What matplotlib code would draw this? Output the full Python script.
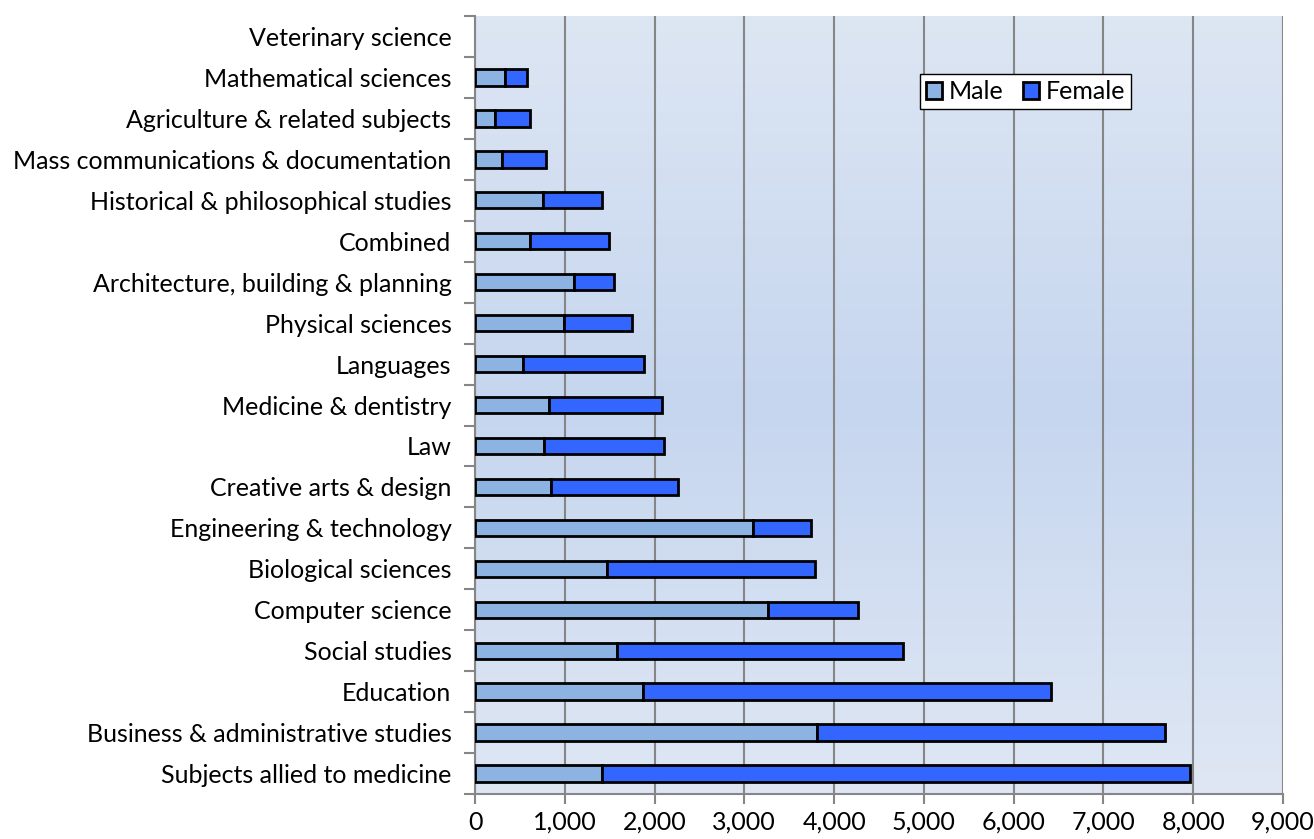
import matplotlib.pyplot as plt
import numpy as np
from matplotlib.colors import LinearSegmentedColormap
from matplotlib.patches import Patch
from matplotlib.ticker import FuncFormatter, MultipleLocator, FixedLocator

# Categories, top to bottom as shown
subjects = [
    "Veterinary science",
    "Mathematical sciences",
    "Agriculture & related subjects",
    "Mass communications & documentation",
    "Historical & philosophical studies",
    "Combined",
    "Architecture, building & planning",
    "Physical sciences",
    "Languages",
    "Medicine & dentistry",
    "Law",
    "Creative arts & design",
    "Engineering & technology",
    "Biological sciences",
    "Computer science",
    "Social studies",
    "Education",
    "Business & administrative studies",
    "Subjects allied to medicine",
]
male = [0, 333, 222, 304, 752, 615, 1104, 993, 533, 819, 763, 848,
        3093, 1470, 3259, 1585, 1867, 3804, 1415]
female = [0, 241, 389, 485, 659, 881, 440, 759, 1348, 1266, 1337, 1415,
          651, 2319, 1008, 3185, 4553, 3885, 6545]

male_color = "#8db3e2"
female_color = "#3366ff"

plt.rcParams['font.family'] = ['Lato', 'DejaVu Sans']

fig = plt.figure(figsize=(13.14, 8.39), dpi=100)
ax = fig.add_axes([0.3615, 0.0536, 0.6149, 0.9273])

# gradient background
grad = LinearSegmentedColormap.from_list(
    "bg", ["#dde6f3", "#c6d6ef", "#dfe7f4"])
ax.imshow(np.linspace(0, 1, 256).reshape(-1, 1), aspect='auto', cmap=grad,
          extent=[0, 1, 0, 1], transform=ax.transAxes, zorder=0)

y = np.arange(len(subjects))
b1 = ax.barh(y, male, height=0.4, color=male_color, edgecolor="black",
             linewidth=2, zorder=3)
b2 = ax.barh(y, female, left=male, height=0.4, color=female_color,
             edgecolor="black", linewidth=2, zorder=3)
# hide empty bars (no outline stub)
for p in list(b1) + list(b2):
    if p.get_width() == 0:
        p.set_visible(False)

ax.set_xlim(0, 9000)
ax.set_ylim(len(subjects) - 0.5, -0.5)
ax.set_yticks(y)
ax.set_yticklabels(subjects, fontsize=18)
ax.yaxis.set_minor_locator(FixedLocator(np.arange(-0.5, len(subjects), 1)))
ax.tick_params(axis='y', which='major', length=0, pad=17)
ax.tick_params(axis='y', which='minor', length=8, width=1.5, color="#868686")

ax.xaxis.set_major_locator(MultipleLocator(1000))
ax.xaxis.set_major_formatter(FuncFormatter(lambda v, p: f"{int(v):,}"))
ax.tick_params(axis='x', length=7, width=1.5, color="#868686", labelsize=18, pad=5)
ax.grid(axis='x', color="#868686", linewidth=1.5, zorder=1)
ax.set_axisbelow(True)

for s in ['top', 'right']:
    ax.spines[s].set_visible(False)
for s in ['left', 'bottom']:
    ax.spines[s].set_color("#868686")
    ax.spines[s].set_linewidth(1.5)

handles = [Patch(facecolor=male_color, edgecolor="black", linewidth=2, label="Male"),
           Patch(facecolor=female_color, edgecolor="black", linewidth=2, label="Female")]
leg = ax.legend(handles=handles, loc='center', bbox_to_anchor=(0.7804, 0.8909),
                bbox_transform=fig.transFigure,
                ncol=2, fontsize=18, frameon=True, fancybox=False,
                handlelength=0.65, handleheight=0.65, handletextpad=0.25,
                columnspacing=0.8, borderpad=0.25, borderaxespad=0)
leg.get_frame().set_edgecolor("black")
leg.get_frame().set_linewidth(1.0)
leg.get_frame().set_alpha(1)

fig.savefig("out.png", dpi=100)
